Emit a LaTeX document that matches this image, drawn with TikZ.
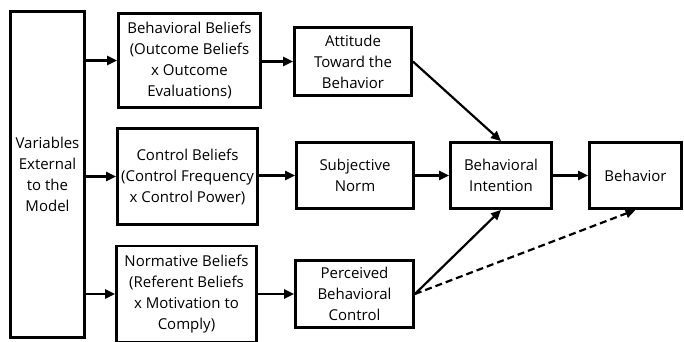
\documentclass[tikz,border=0pt]{standalone}
\usepackage{fontspec}
\setmainfont{Open Sans}
\usetikzlibrary{arrows.meta}
\begin{document}
\begin{tikzpicture}[x=1pt,y=-1pt,
  box/.style={draw=black,line width=2.8pt,fill=white,align=center,inner sep=0pt,
    font=\fontsize{15}{21}\selectfont},
  arr/.style={line width=2.2pt,-{Triangle[length=10pt,width=9pt]}},
  darr/.style={arr,dash pattern=on 7pt off 4pt}]
\useasboundingbox (0,0) rectangle (684,341);
\node[box,minimum width=74pt,minimum height=326pt] (L) at (47.5,174.5) {Variables\\External\\to the\\Model};
\node[box,minimum width=142pt,minimum height=94pt] (BB) at (189.5,60.5) {Behavioral Beliefs\\(Outcome Beliefs\\x Outcome\\Evaluations)};
\node[box,minimum width=140pt,minimum height=96pt] (CB) at (187.5,176.5) {Control Beliefs\\(Control Frequency\\x Control Power)};
\node[box,minimum width=140pt,minimum height=96pt] (NB) at (186.5,294) {Normative Beliefs\\(Referent Beliefs\\x Motivation to\\Comply)};
\node[box,minimum width=117pt,minimum height=68pt] (AT) at (353,61.5) {Attitude\\Toward the\\Behavior};
\node[box,minimum width=117pt,minimum height=66pt] (SN) at (355,175.5) {Subjective\\Norm};
\node[box,minimum width=118pt,minimum height=67pt] (PBC) at (354.5,294) {Perceived\\Behavioral\\Control};
\node[box,minimum width=101pt,minimum height=66pt] (BI) at (501,175.5) {Behavioral\\Intention};
\node[box,minimum width=92pt,minimum height=66pt] (BE) at (635.5,175.5) {Behavior};
\draw[arr] (L.east |- BB.west) -- (BB.west);
\draw[arr] (L.east |- CB.west) -- (CB.west);
\draw[arr] (L.east |- NB.west) -- (NB.west);
\draw[arr] (BB.east |- AT.west) -- (AT.west);
\draw[arr] (CB.east |- SN.west) -- (SN.west);
\draw[arr] (NB.east |- PBC.west) -- (PBC.west);
\draw[arr] (AT.east) -- (BI.north);
\draw[arr] (SN.east) -- (BI.west);
\draw[arr] (PBC.east) -- (BI.south);
\draw[arr] (BI.east) -- (BE.west);
\draw[darr] (PBC.east) -- (BE.south);
\end{tikzpicture}
\end{document}
